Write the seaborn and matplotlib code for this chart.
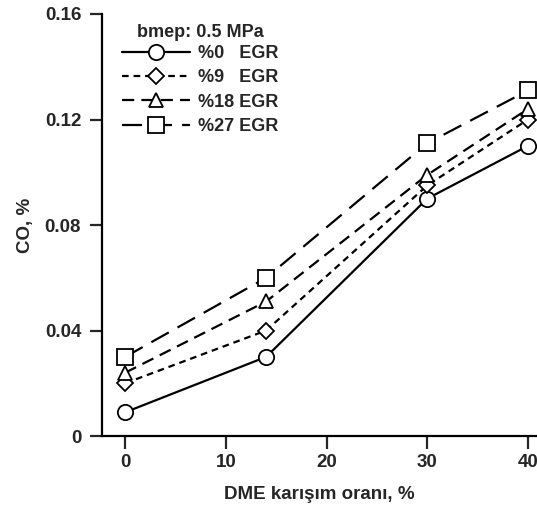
import matplotlib
matplotlib.use("Agg")
import matplotlib.pyplot as plt
import seaborn as sns
import pandas as pd
from matplotlib.lines import Line2D

sns.set_theme(style="white")
plt.rcParams['font.family'] = ['Liberation Sans', 'DejaVu Sans']
plt.rcParams['font.weight'] = 'bold'

dme = [0, 14, 30, 40]
co_egr0 = [0.009, 0.030, 0.090, 0.110]
co_egr9 = [0.020, 0.040, 0.095, 0.120]
co_egr18 = [0.024, 0.051, 0.099, 0.124]
co_egr27 = [0.030, 0.060, 0.111, 0.131]
labels = ["%0   EGR", "%9   EGR", "%18 EGR", "%27 EGR"]
xticks = [0, 10, 20, 30, 40]
yticks = [0, 0.04, 0.08, 0.12, 0.16]
yticklabels = ["0", "0.04", "0.08", "0.12", "0.16"]

series = [co_egr0, co_egr9, co_egr18, co_egr27]
markers = ['o', 'D', '^', 's']
msizes = [11, 8, 9.5, 11]
dashes = [(None, None), (3.0, 2.2), (5.5, 3.2), (9, 4.5)]

FS = 13.5
fig = plt.figure(figsize=(5.37, 5.09), dpi=100)
ax = fig.add_axes([0.19, 0.1434, 0.81, 0.8291])

handles = []
for vals, lab, m, ms, d in zip(series, labels, markers, msizes, dashes):
    df = pd.DataFrame({"x": dme, "y": vals})
    kw = {}
    if d[0] is not None:
        kw['dashes'] = d
    sns.lineplot(data=df, x="x", y="y", ax=ax, color='black', linewidth=1.6,
                 marker=m, markersize=ms, markerfacecolor='white',
                 markeredgecolor='black', markeredgewidth=1.3, **kw)
    h = Line2D([0], [0], color='black', linewidth=1.6, marker=m, markersize=ms,
               markerfacecolor='white', markeredgecolor='black', markeredgewidth=1.3)
    if d[0] is not None:
        h.set_dashes(d)
    handles.append(h)

ax.set_xlim(-2.3, 40.9)
ax.set_ylim(0, 0.16)
ax.set_xticks(xticks)
ax.set_xticklabels([str(t) for t in xticks])
ax.set_yticks(yticks)
ax.set_yticklabels(yticklabels)
ax.set_xlabel("DME karışım oranı, %", fontsize=FS, fontweight='bold', labelpad=11)
ax.set_ylabel("CO, %", fontsize=FS, fontweight='bold', labelpad=8)
ax.tick_params(axis='both', direction='out', length=9, width=1.6, labelsize=FS,
               bottom=True, left=True)
ax.tick_params(axis='x', pad=4)
ax.tick_params(axis='y', pad=6)
for lbl in ax.get_xticklabels() + ax.get_yticklabels():
    lbl.set_fontweight('bold')
ax.spines['top'].set_visible(False)
ax.spines['right'].set_visible(False)
for s in ['left', 'bottom']:
    ax.spines[s].set_linewidth(1.6)
    ax.spines[s].set_color('black')

leg = ax.legend(handles, labels, loc='upper left', bbox_to_anchor=(0.045, 0.977),
                frameon=False, title="bmep: 0.5 MPa", handlelength=3.8,
                prop={'weight': 'bold', 'size': 13}, labelspacing=0.41,
                handletextpad=0.45, borderaxespad=0.0, borderpad=0.0)
leg.get_title().set_fontweight('bold')
leg.get_title().set_fontsize(13)
leg._legend_box.sep = 3

fig.savefig("out.png", dpi=100)
